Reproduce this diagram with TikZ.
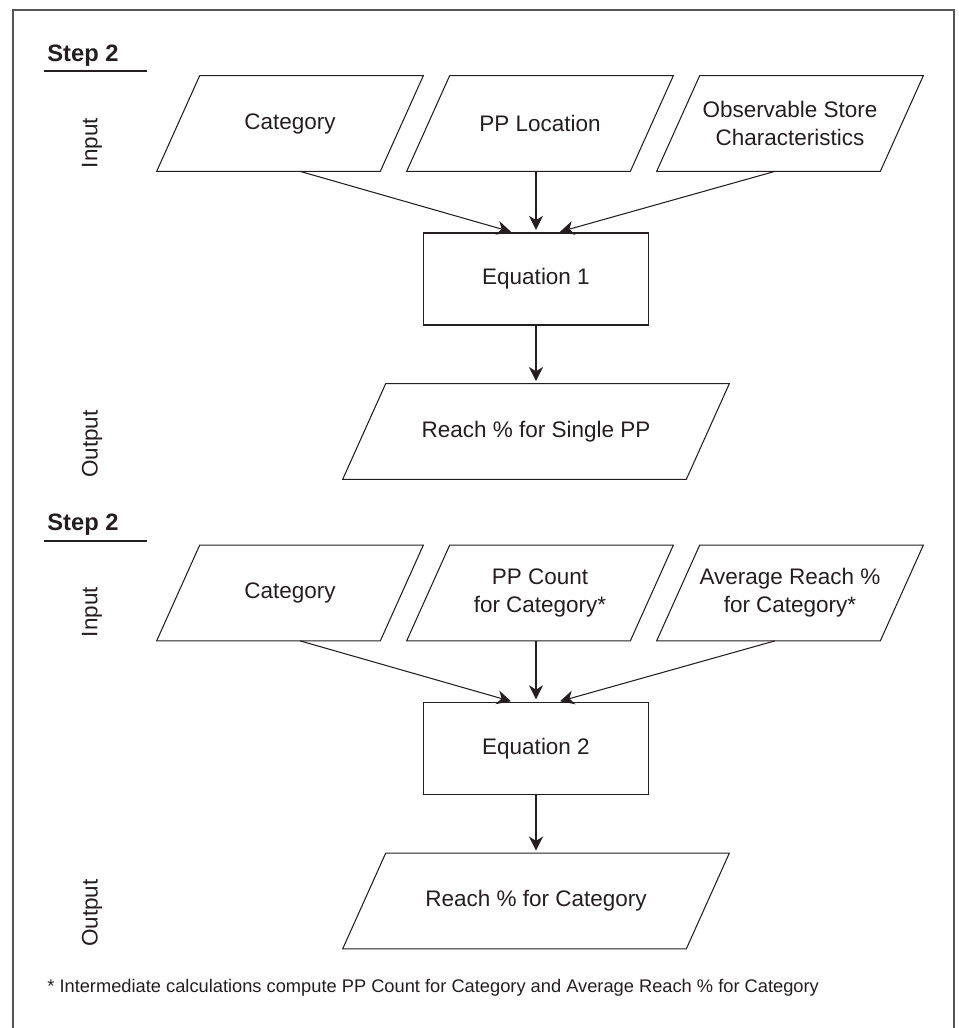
\documentclass[tikz,border=0pt]{standalone}
\usepackage{fontspec}
\setmainfont{Liberation Sans}
\usetikzlibrary{arrows.meta,positioning}
\definecolor{ink}{HTML}{231F20}
\definecolor{framegray}{HTML}{555555}

\begin{document}
\begin{tikzpicture}[x=0.02cm,y=-0.02cm,
  every node/.style={text=ink,font=\fontsize{12.8}{16}\selectfont},
  io/.style={minimum width=4.46cm,minimum height=1.9cm,inner sep=0pt,align=center,
    append after command={\pgfextra{\draw[ink,line width=0.6pt]
      ([xshift=-0.43cm]\tikzlastnode.south west) -- ([xshift=-0.43cm]\tikzlastnode.south east)
      -- ([xshift=0.43cm]\tikzlastnode.north east) -- ([xshift=0.43cm]\tikzlastnode.north west)
      -- cycle;}}},
  outio/.style={io,minimum width=6.86cm},
  eqbox/.style={draw=ink,line width=0.6pt,minimum width=4.5cm,minimum height=1.84cm},
  lane/.style={rotate=90},
  steplabel/.style={anchor=west,inner sep=0pt,font=\bfseries\fontsize{13.5}{16}\selectfont},
  flow/.style={draw=ink,line width=0.6pt,shorten >=1.5pt,-{Stealth[length=8pt,width=8pt,inset=2.5pt]}}]
  \useasboundingbox (0,0) rectangle (959,1028);
  \draw[framegray,line width=0.9pt] (13,1028) -- (13,10) -- (954,10) -- (954,1028);

  % first step
  \node[steplabel] (stepa) at (47,56) {Step 2};
  \draw[ink,line width=1.5pt] (44,71) -- (147,71);
  \node[lane] (ina) at (92,143) {Input};
  \node[io] (cata) at (290,123.5) {Category};
  \node[io] (loc) at (540,123.5) {PP Location};
  \node[io] (obs) at (790,123.5) {Observable Store\\Characteristics};
  \node[eqbox] (eqa) at (536,279) {Equation 1};
  \node[lane] (outa) at (92,444) {Output};
  \node[outio] (reacha) at (536,431.5) {Reach \% for Single PP};
  \draw[flow] ([xshift=0.2cm]cata.south) -- ([xshift=-0.45cm]eqa.north);
  \draw[flow] (eqa.north |- loc.south) -- (eqa.north);
  \draw[flow] ([xshift=-0.3cm]obs.south) -- ([xshift=0.43cm]eqa.north);
  \draw[flow] (eqa.south) -- (reacha.north);

  % second step
  \node[steplabel] (stepb) at (47,525) {Step 2};
  \draw[ink,line width=1.5pt] (44,541) -- (147,541);
  \node[lane] (inb) at (92,612) {Input};
  \node[io] (catb) at (290,593) {Category};
  \node[io] (cnt) at (540,593) {PP Count\\for Category*};
  \node[io] (avg) at (790,593) {Average Reach \%\\for Category*};
  \node[eqbox] (eqb) at (536,748.5) {Equation 2};
  \node[lane] (outb) at (92,913) {Output};
  \node[outio] (reachb) at (536,901) {Reach \% for Category};
  \draw[flow] ([xshift=0.2cm]catb.south) -- ([xshift=-0.45cm]eqb.north);
  \draw[flow] (eqb.north |- cnt.south) -- (eqb.north);
  \draw[flow] ([xshift=-0.3cm]avg.south) -- ([xshift=0.43cm]eqb.north);
  \draw[flow] (eqb.south) -- (reachb.north);

  \node[anchor=west,inner sep=0pt,font=\fontsize{10.4}{12}\selectfont] (note) at (47,988)
    {* Intermediate calculations compute PP Count for Category and Average Reach \% for Category};
\end{tikzpicture}
\end{document}
